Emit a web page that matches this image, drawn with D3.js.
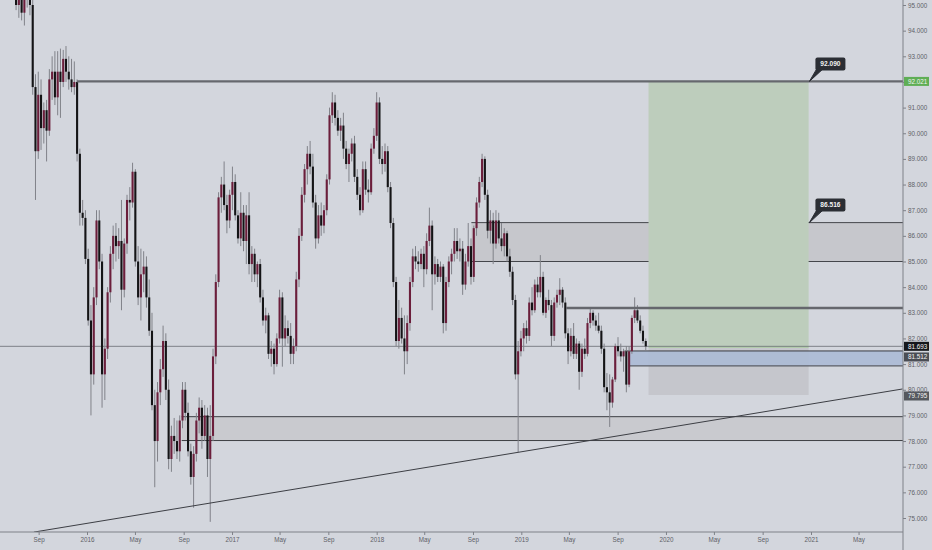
<!DOCTYPE html>
<html><head><meta charset="utf-8">
<script src="https://cdn.jsdelivr.net/npm/d3@7"></script>
<style>
html,body{margin:0;padding:0;background:#d3d6dd;}
svg{display:block;font-family:"Liberation Sans",Arial,sans-serif;}
</style></head><body>
<svg id="c" width="932" height="550"></svg>
<script>
// ---------- DATA ----------
const firstWeek = "2015-07-06"; // weekly candles, one per week from this Monday
const open  = [95.6,95.0,95.4,94.7,95.3,95.8,95.0,91.8,89.3,91.5,90.2,90.9,90.1,92.1,92.4,91.4,92.4,92.0,92.9,92.4,92.1,91.8,92.0,89.2,86.9,86.7,85.1,82.7,80.6,83.6,86.6,85.0,80.6,81.6,83.8,85.3,86.0,85.6,85.8,83.9,85.7,87.4,87.3,88.5,85.0,83.6,84.5,84.8,83.6,82.3,79.4,78.0,79.9,80.8,81.9,80.0,77.3,78.2,78.0,77.6,78.8,80.0,79.1,77.6,76.6,77.5,78.8,79.3,78.2,79.0,77.3,78.2,81.3,84.2,87.5,88.0,87.2,86.6,87.6,88.1,86.8,85.9,86.9,85.8,86.8,84.9,85.3,84.5,84.9,83.6,82.7,82.9,81.4,81.6,81.0,82.0,83.6,82.0,82.4,82.1,81.4,81.7,84.3,86.0,87.6,88.6,89.2,88.7,87.3,85.9,86.8,86.4,87.0,88.2,90.7,91.2,90.6,90.1,90.3,89.4,88.8,89.2,89.6,88.3,87.6,87.0,88.6,87.8,87.7,89.4,89.9,91.2,89.0,88.8,89.3,87.9,86.5,84.2,81.9,82.8,82.0,81.5,82.6,84.2,85.2,85.0,84.9,85.3,84.7,85.8,86.4,84.5,84.9,84.4,84.8,82.6,84.2,85.0,85.3,85.8,85.4,85.5,84.1,85.0,85.6,84.4,86.3,87.3,88.1,89.0,87.6,86.2,86.6,85.7,86.6,85.9,85.6,86.1,85.2,84.6,83.5,80.6,81.5,82.0,82.4,82.1,83.4,83.1,84.1,83.8,84.4,83.0,83.5,83.3,82.1,83.4,83.7,83.9,83.4,82.2,81.5,82.1,81.4,81.8,80.7,81.6,81.4,82.6,83.0,82.7,82.5,82.3,81.6,80.1,79.9,79.5,80.4,81.7,81.5,81.3,81.5,80.2,81.5,82.8,83.1,82.7,82.3,81.9];
const high  = [96.2,95.8,96.0,95.6,96.3,96.2,95.3,92.3,92.4,92.1,91.2,91.3,92.5,93.0,93.2,93.2,93.3,93.25,93.4,93.0,92.9,92.8,92.1,89.4,87.4,87.0,85.5,83.3,84.0,87.0,87.0,85.3,82.0,84.0,85.6,86.4,86.5,86.3,87.4,85.9,87.6,87.9,88.85,88.6,85.6,85.5,85.4,85.2,84.3,83.0,80.0,80.3,81.2,82.5,82.2,80.4,78.6,78.9,78.8,79.0,80.3,80.3,79.5,77.9,77.8,79.1,79.7,79.6,79.4,79.3,79.4,81.6,84.5,87.7,88.3,88.9,87.6,87.8,88.7,88.4,87.0,87.7,87.2,87.2,87.7,85.6,85.5,85.0,85.1,83.9,83.2,83.0,81.9,81.8,82.2,83.9,83.8,82.9,82.7,82.6,82.0,84.6,86.3,87.9,88.8,89.5,89.7,89.2,87.6,87.2,87.3,87.2,88.4,91.0,91.6,91.5,90.9,90.6,90.8,89.7,89.4,89.8,89.9,88.6,87.9,88.9,88.9,88.2,89.6,90.2,91.6,91.4,89.5,89.6,89.5,88.1,86.7,84.4,83.5,83.2,82.9,82.9,84.4,85.5,85.6,85.4,85.5,85.6,86.1,87.1,86.6,85.2,85.1,85.0,84.9,84.4,85.2,85.5,86.3,86.3,85.9,85.8,85.3,86.5,85.9,86.4,87.5,88.3,89.2,89.1,87.8,87.0,86.9,87.0,86.9,86.5,86.3,86.2,85.5,84.8,83.7,81.9,82.3,82.6,82.7,83.6,84.0,84.3,84.4,85.25,84.6,83.6,83.9,83.5,83.6,83.9,84.35,84.0,83.6,82.4,82.4,82.6,82.0,81.9,81.8,82.0,82.8,83.2,83.1,82.9,83.0,82.5,81.8,80.65,80.6,80.5,81.8,82.05,81.8,81.6,81.7,81.7,82.9,83.6,83.3,82.9,82.5,82.0];
const low   = [94.8,94.5,94.4,94.2,94.9,94.6,91.5,87.4,89.0,89.35,89.6,88.9,89.9,91.3,91.1,90.7,90.6,91.8,92.0,91.7,91.6,91.5,88.9,86.4,86.4,84.9,82.5,79.0,80.2,83.3,84.7,79.3,79.6,81.2,83.4,84.7,85.0,85.1,83.1,83.6,85.3,86.6,87.1,84.8,83.3,82.7,83.8,83.2,82.1,79.2,76.2,77.2,79.4,80.5,79.6,76.9,76.8,77.5,77.3,77.2,78.5,78.8,77.4,76.3,75.4,77.2,78.3,77.7,78.0,76.6,74.85,78.0,81.0,84.0,86.9,87.0,86.1,86.3,87.0,86.6,85.7,85.6,85.4,84.9,84.5,84.2,84.2,84.0,83.4,82.5,82.2,81.2,80.9,80.6,80.9,81.8,80.9,81.7,81.8,81.0,81.0,81.5,84.0,85.8,87.3,88.0,88.4,87.1,85.5,85.7,86.0,86.1,86.8,88.0,90.4,90.3,89.9,89.7,89.0,88.6,88.1,88.9,88.1,87.4,86.8,86.9,87.6,87.3,87.6,89.2,89.7,88.8,88.4,88.5,87.7,86.3,84.0,81.7,81.6,81.8,80.6,81.0,82.3,84.0,84.7,84.6,84.7,84.0,84.5,85.6,83.1,84.1,84.2,84.2,82.2,82.3,84.0,84.5,85.0,85.1,85.0,83.7,83.9,84.8,84.1,84.2,86.0,87.1,87.9,87.4,85.9,85.7,84.9,85.5,85.7,85.4,85.2,85.0,84.4,83.3,80.4,77.57,81.3,81.5,81.8,81.9,82.9,83.0,83.6,83.6,82.9,82.8,83.1,81.7,81.9,83.2,83.3,83.2,82.0,81.0,81.3,81.2,81.2,80.0,80.5,81.2,81.3,82.4,82.5,82.3,82.2,81.4,79.9,79.2,78.55,79.3,80.3,81.3,81.1,80.7,79.9,80.1,81.4,82.6,82.6,82.2,81.8,81.55];
const close = [95.0,95.4,94.7,95.3,95.8,95.0,91.8,89.3,91.5,90.2,90.9,90.1,92.1,92.4,91.4,92.4,92.0,92.9,92.4,92.1,91.8,92.0,89.2,86.9,86.7,85.1,82.7,80.6,83.6,86.6,85.0,80.6,81.6,83.8,85.3,86.0,85.6,85.8,83.9,85.7,87.4,87.3,88.5,85.0,83.6,84.5,84.8,83.6,82.3,79.4,78.0,79.9,80.8,81.9,80.0,77.3,78.2,78.0,77.6,78.8,80.0,79.1,77.6,76.6,77.5,78.8,79.3,78.2,79.0,77.3,78.2,81.3,84.2,87.5,88.0,87.2,86.6,87.6,88.1,86.8,85.9,86.9,85.8,86.8,84.9,85.3,84.5,84.9,83.6,82.7,82.9,81.4,81.6,81.0,82.0,83.6,82.0,82.4,82.1,81.4,81.7,84.3,86.0,87.6,88.6,89.2,88.7,87.3,85.9,86.8,86.4,87.0,88.2,90.7,91.2,90.6,90.1,90.3,89.4,88.8,89.2,89.6,88.3,87.6,87.0,88.6,87.8,87.7,89.4,89.9,91.2,89.0,88.8,89.3,87.9,86.5,84.2,81.9,82.8,82.0,81.5,82.6,84.2,85.2,85.0,84.9,85.3,84.7,85.8,86.4,84.5,84.9,84.4,84.8,82.6,84.2,85.0,85.3,85.8,85.4,85.5,84.1,85.0,85.6,84.4,86.3,87.3,88.1,89.0,87.6,86.2,86.6,85.7,86.6,85.9,85.6,86.1,85.2,84.6,83.5,80.6,81.5,82.0,82.4,82.1,83.4,83.1,84.1,83.8,84.4,83.0,83.5,83.3,82.1,83.4,83.7,83.9,83.4,82.2,81.5,82.1,81.4,81.8,80.7,81.6,81.4,82.6,83.0,82.7,82.5,82.3,81.6,80.1,79.9,79.5,80.4,81.7,81.5,81.3,81.5,80.2,81.5,82.8,83.1,82.7,82.3,81.9,81.69];

const timeTicks  = ["2015-09-01","2016-01-01","2016-05-01","2016-09-01","2017-01-01","2017-05-01","2017-09-01","2018-01-01","2018-05-01","2018-09-01","2019-01-01","2019-05-01","2019-09-01","2020-01-01","2020-05-01","2020-09-01","2021-01-01","2021-05-01"];
const priceTicks = [75,76,77,78,79,80,81,82,83,84,85,86,87,88,89,90,91,92,93,94,95];

// drawing annotations (price levels, date anchors)
const targetLine   = {price: 92.021, from: "2015-12-07"};
const targetNote   = {text: "92.090", at: "2020-12-28", price: 92.021};
const zone         = {top: 86.516, bottom: 85.0, from: "2018-08-28"};
const zoneNote     = {text: "86.516", at: "2020-12-28", price: 86.516};
const resistance   = {price: 83.19, from: "2019-04-24"};
const lastPrice    = 81.693;
const entryZone    = {top: 81.512, bottom: 80.93, from: "2019-10-01"};
const position     = {from: "2019-11-18", to: "2020-12-26", target: 92.021, entry: 81.693, stop: 79.795};
const supportZone  = {top: 78.95, bottom: 78.02, from: "2016-08-27"};
const trendPoints  = [["2015-08-20", 74.45], ["2021-08-20", 80.03]];
const axisBadges   = [
  {price: 92.021, fill: "#5fae55"},
  {price: 81.693, fill: "#15171b"},
  {price: 81.512, fill: "#4b4e55", dy: 6},
  {price: 79.795, fill: "#55585e", dy: 1}
];

// ---------- CHART ----------
const W = 932, H = 550, axisX = 903, axisY = 532;
const parse = d3.utcParse("%Y-%m-%d");
const x = d3.scaleUtc().domain([parse("2016-01-01"), parse("2021-01-01")]).range([87, 811]);
const y = d3.scaleLinear().domain([75, 95]).range([518, 5]);

const start = parse(firstWeek);
const candles = close.map((c, i) => ({
  date: d3.utcDay.offset(start, i * 7), o: open[i], h: high[i], l: low[i], c: c
}));

const svg = d3.select("#c");
svg.append("rect").attr("width", W).attr("height", H).attr("fill", "#d3d6dd");

const defs = svg.append("defs");
defs.append("clipPath").attr("id", "plot").append("rect")
  .attr("x", 0).attr("y", 0).attr("width", axisX).attr("height", axisY);

const plot = svg.append("g").attr("clip-path", "url(#plot)");

// support zone (bottom)
plot.append("rect")
  .attr("x", x(parse(supportZone.from))).attr("y", y(supportZone.top))
  .attr("width", axisX - x(parse(supportZone.from)))
  .attr("height", y(supportZone.bottom) - y(supportZone.top))
  .attr("fill", "#c9cacf");
[supportZone.top, supportZone.bottom].forEach(p => {
  plot.append("line").attr("x1", x(parse(supportZone.from))).attr("x2", axisX)
    .attr("y1", y(p)).attr("y2", y(p)).attr("stroke", "#3d3f44").attr("stroke-width", 1);
});

// upper gray zone
plot.append("rect")
  .attr("x", x(parse(zone.from))).attr("y", y(zone.top))
  .attr("width", axisX - x(parse(zone.from)))
  .attr("height", y(zone.bottom) - y(zone.top))
  .attr("fill", "#c6c7cc");
[zone.top, zone.bottom].forEach(p => {
  plot.append("line").attr("x1", x(parse(zone.from))).attr("x2", axisX)
    .attr("y1", y(p)).attr("y2", y(p)).attr("stroke", "#44464b").attr("stroke-width", 1);
});

// long position box
const px1 = x(parse(position.from)), px2 = x(parse(position.to));
plot.append("rect").attr("x", px1).attr("y", y(position.target))
  .attr("width", px2 - px1).attr("height", y(position.entry) - y(position.target))
  .attr("fill", "#bdcdbc");
plot.append("rect").attr("x", px1).attr("y", y(position.entry))
  .attr("width", px2 - px1).attr("height", y(position.stop) - y(position.entry))
  .attr("fill", "#c5c6cc");
plot.append("line").attr("x1", px1).attr("x2", px2)
  .attr("y1", y(position.entry) + 0.5).attr("y2", y(position.entry) + 0.5)
  .attr("stroke", "#9fd08c").attr("stroke-width", 1.5);

// blue entry zone
plot.append("rect").attr("x", x(parse(entryZone.from))).attr("y", y(entryZone.top))
  .attr("width", axisX - x(parse(entryZone.from)))
  .attr("height", y(entryZone.bottom) - y(entryZone.top))
  .attr("fill", "#abbad5").attr("opacity", 0.9);
plot.append("line").attr("x1", x(parse(entryZone.from)) - 5).attr("x2", axisX)
  .attr("y1", y(entryZone.top)).attr("y2", y(entryZone.top))
  .attr("stroke", "#3a3c42").attr("stroke-width", 1);
plot.append("line").attr("x1", x(parse(entryZone.from))).attr("x2", axisX)
  .attr("y1", y(entryZone.bottom)).attr("y2", y(entryZone.bottom))
  .attr("stroke", "#5b5e66").attr("stroke-width", 1.2);

// last price line
plot.append("line").attr("x1", 0).attr("x2", axisX)
  .attr("y1", y(lastPrice)).attr("y2", y(lastPrice))
  .attr("stroke", "#7d8087").attr("stroke-width", 1);

// candles
const bw = 2.1;
const cg = plot.append("g");
cg.selectAll("line.wick").data(candles).join("line")
  .attr("class", "wick")
  .attr("x1", d => x(d.date)).attr("x2", d => x(d.date))
  .attr("y1", d => y(d.h)).attr("y2", d => y(d.l))
  .attr("stroke", "#808289").attr("stroke-width", 1);
cg.selectAll("rect.body").data(candles).join("rect")
  .attr("class", "body")
  .attr("x", d => x(d.date) - bw / 2)
  .attr("y", d => y(Math.max(d.o, d.c)))
  .attr("width", bw)
  .attr("height", d => Math.max(1, Math.abs(y(d.o) - y(d.c))))
  .attr("fill", d => d.c >= d.o ? "#6b1e3b" : "#141416");

// target line
plot.append("line").attr("x1", x(parse(targetLine.from))).attr("x2", axisX)
  .attr("y1", y(targetLine.price)).attr("y2", y(targetLine.price))
  .attr("stroke", "#66686e").attr("stroke-width", 2.2);

// resistance line
plot.append("line").attr("x1", x(parse(resistance.from))).attr("x2", axisX)
  .attr("y1", y(resistance.price)).attr("y2", y(resistance.price))
  .attr("stroke", "#65676d").attr("stroke-width", 2.4);

// trend line
plot.append("line")
  .attr("x1", x(parse(trendPoints[0][0]))).attr("y1", y(trendPoints[0][1]))
  .attr("x2", x(parse(trendPoints[1][0]))).attr("y2", y(trendPoints[1][1]))
  .attr("stroke", "#3c3e44").attr("stroke-width", 1);

// callouts
function callout(note) {
  const ax = x(parse(note.at)), ay = y(note.price);
  const g = svg.append("g");
  const bx = ax + 6, by = ay - 24, bwid = 30, bh = 13;
  g.append("path")
    .attr("d", `M${ax},${ay} L${bx + 1},${by + bh - 1} L${bx + 7},${by + bh - 1} Z`)
    .attr("fill", "#2b2e34").attr("stroke", "#2b2e34").attr("stroke-width", 1);
  g.append("rect").attr("x", bx).attr("y", by).attr("width", bwid).attr("height", bh)
    .attr("rx", 2).attr("fill", "#2b2e34");
  g.append("text").attr("x", bx + bwid / 2).attr("y", by + bh / 2 + 2.3)
    .attr("text-anchor", "middle").attr("fill", "#f2f2f2")
    .attr("font-size", 6.6).attr("font-weight", "bold").text(note.text);
}
callout(targetNote);
callout(zoneNote);

// axes
const fullyCovered = p => axisBadges.some(b => Math.abs(y(b.price) + (b.dy || 0) - y(p)) < 2.5);
const yAxis = d3.axisRight(y).tickValues(priceTicks).tickFormat(d3.format(".3f")).tickSize(3).tickPadding(2);
const gy = svg.append("g").attr("transform", `translate(${axisX},0)`).call(yAxis);
gy.select(".domain").remove();
gy.selectAll(".tick line").attr("stroke", "#7e8188");
gy.selectAll(".tick text").attr("fill", "#5e6168").attr("font-size", 6.3)
  .attr("font-family", "Liberation Sans, Arial, sans-serif")
  .style("display", d => fullyCovered(d) ? "none" : null);
svg.append("line").attr("x1", axisX).attr("x2", axisX).attr("y1", 0).attr("y2", H)
  .attr("stroke", "#7e8188").attr("stroke-width", 1);

const fmtTick = d => d.getUTCMonth() === 0 ? d3.utcFormat("%Y")(d) : d3.utcFormat("%b")(d);
const xAxis = d3.axisBottom(x).tickValues(timeTicks.map(parse)).tickFormat(fmtTick).tickSize(3).tickPadding(3);
const gx = svg.append("g").attr("transform", `translate(0,${axisY})`).call(xAxis);
gx.select(".domain").remove();
gx.selectAll(".tick line").attr("stroke", "#7e8188");
gx.selectAll(".tick text").attr("fill", "#5e6168").attr("font-size", 6.3)
  .attr("font-family", "Liberation Sans, Arial, sans-serif");
svg.append("line").attr("x1", 0).attr("x2", axisX).attr("y1", axisY).attr("y2", axisY)
  .attr("stroke", "#7e8188").attr("stroke-width", 1);

// axis badges
axisBadges.forEach(b => {
  const cy = y(b.price) + (b.dy || 0);
  svg.append("rect").attr("x", axisX + 1).attr("y", cy - 4.5).attr("width", 25).attr("height", 9)
    .attr("fill", b.fill);
  svg.append("text").attr("x", axisX + 5).attr("y", cy + 2.2)
    .attr("fill", "#f4f4f4").attr("font-size", 6.3).text(d3.format(".3f")(b.price));
});
</script></body></html>
